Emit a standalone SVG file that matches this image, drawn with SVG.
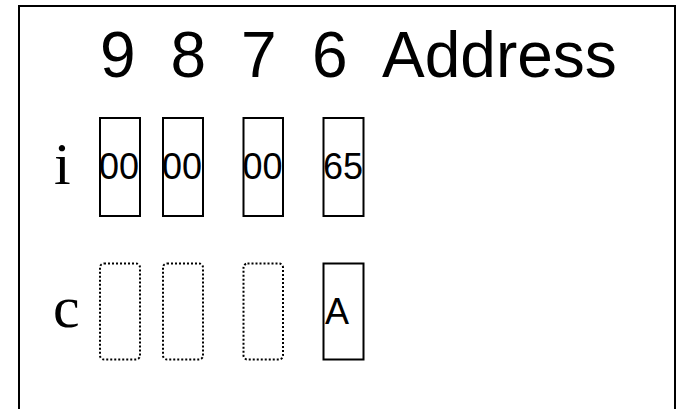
<svg xmlns="http://www.w3.org/2000/svg" width="677" height="409" viewBox="0 0 677 409">
  <style>
    .frame { fill: none; stroke: #000; stroke-width: 2; }
    .cell { fill: #fff; stroke: #000; stroke-width: 2; }
    .empty { fill: #fff; stroke: #000; stroke-width: 2; stroke-dasharray: 2 2; }
    .head { font-family: "Liberation Sans", Arial, sans-serif; font-size: 64px; fill: #000; }
    .var { font-family: "Liberation Serif", "Times New Roman", serif; font-size: 60px; fill: #000; }
    .val { font-family: "Liberation Sans", Arial, sans-serif; font-size: 36px; fill: #000; }
  </style>
  <rect width="677" height="409" fill="#fff"/>
  <path class="frame" d="M19,412 V6 H675 V412"/>
  <g id="header">
    <text class="head" y="76.5"><tspan x="100">9</tspan><tspan x="170.5">8</tspan><tspan x="241">7</tspan><tspan x="312">6</tspan><tspan x="382">Address</tspan></text>
  </g>
  <g id="label-i"><text class="var" x="54" y="184">i</text></g>
  <g id="label-c"><text class="var" x="53" y="327">c</text></g>
  <g id="i-9"><text class="val" x="99" y="178.5">00</text><rect class="cell" x="100" y="118" width="40" height="98" fill="none" style="fill:none"/></g>
  <g id="i-8"><text class="val" x="162" y="178.5">00</text><rect class="cell" x="163" y="118" width="40" height="98" style="fill:none"/></g>
  <g id="i-7"><text class="val" x="242.5" y="178.5">00</text><rect class="cell" x="243.5" y="118" width="39.5" height="98" style="fill:none"/></g>
  <g id="i-6"><text class="val" x="323" y="178.5">65</text><rect class="cell" x="323.5" y="118" width="40" height="98" style="fill:none"/></g>
  <g id="c-9"><rect class="empty" x="100" y="263.5" width="40" height="96" rx="4" style="fill:none"/></g>
  <g id="c-8"><rect class="empty" x="163" y="263.5" width="40" height="96" rx="4" style="fill:none"/></g>
  <g id="c-7"><rect class="empty" x="243.5" y="263.5" width="39.5" height="96" rx="4" style="fill:none"/></g>
  <g id="c-6"><rect class="cell" x="323.5" y="263.5" width="40" height="96" style="fill:none"/><text class="val" x="325" y="323.5">A</text></g>
  <g id="connectors"/>
</svg>
